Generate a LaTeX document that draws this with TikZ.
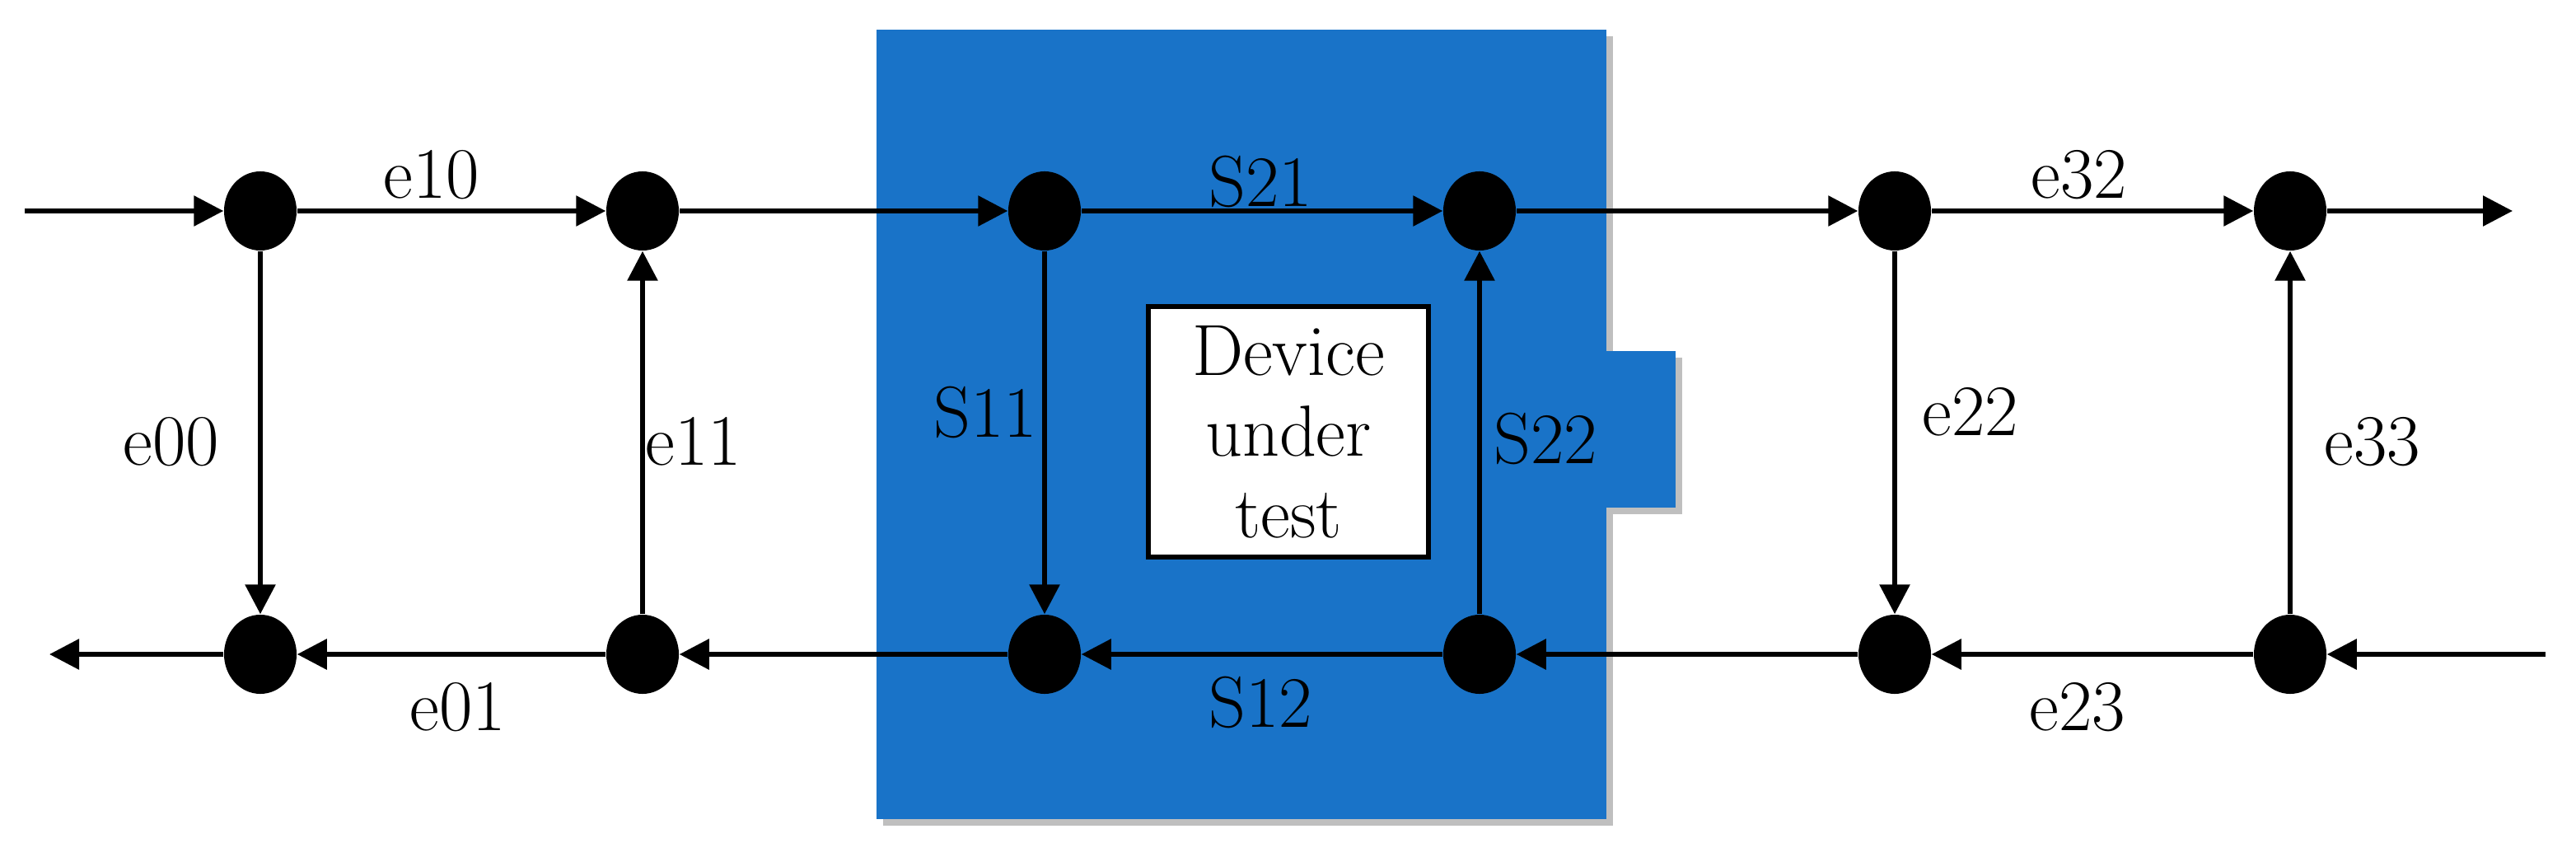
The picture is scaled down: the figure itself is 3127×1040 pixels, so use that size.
\documentclass[tikz,border=0pt]{standalone}
\usetikzlibrary{arrows.meta,shapes.geometric}
\definecolor{dutblue}{RGB}{25,115,200}
\begin{document}
\begin{tikzpicture}[x=0.01cm,y=-0.01cm,
  dot/.style={ellipse,fill=black,inner sep=0pt,minimum width=88\pgflinewidth*0+0.88cm,minimum height=0.96cm},
  ln/.style={line width=1.7pt,-{Triangle[length=0.36cm,width=0.36cm]}},
  lbl/.style={font=\fontsize{25}{30}\selectfont}]
\useasboundingbox (0,0) rectangle (3127,1040);
% shadow and blue box
\fill[gray!50] (1072,44) rectangle (1958,1002);
\fill[gray!50] (1958,434) rectangle (2042,624);
\fill[dutblue] (1064,36) rectangle (1950,994);
\fill[dutblue] (1950,426) rectangle (2034,616);
\node[draw=black,line width=1.7pt,fill=white,minimum width=3.4cm,minimum height=3.04cm,align=center,lbl,font=\fontsize{25}{28}\selectfont] (dut) at (1564,524) {Device\\under\\test};
% nodes
\foreach \n/\x in {1/316,2/780,3/1268,4/1796,5/2300,6/2780}{
  \node[dot] (t\n) at (\x,256) {};
  \node[dot] (b\n) at (\x,794) {};
}
\coordinate (inT) at (30,256);
\coordinate (outT) at (3050,256);
\coordinate (outB) at (60,794);
\coordinate (inB) at (3090,794);
% top row
\draw[ln] (inT) -- (t1);
\foreach \a/\b in {1/2,2/3,3/4,4/5,5/6}{\draw[ln] (t\a) -- (t\b);}
\draw[ln] (t6) -- (outT);
% bottom row
\draw[ln] (inB) -- (b6);
\foreach \a/\b in {6/5,5/4,4/3,3/2,2/1}{\draw[ln] (b\a) -- (b\b);}
\draw[ln] (b1) -- (outB);
% verticals
\draw[ln] (t1) -- (b1);
\draw[ln] (b2) -- (t2);
\draw[ln] (t3) -- (b3);
\draw[ln] (b4) -- (t4);
\draw[ln] (t5) -- (b5);
\draw[ln] (b6) -- (t6);
% labels
\node[lbl] (l1) at (524,212) {e10};
\node[lbl] (l2) at (208,536) {e00};
\node[lbl] (l3) at (842,536) {e11};
\node[lbl] (l4) at (556,858) {e01};
\node[lbl] (l5) at (1196,500) {S11};
\node[lbl] (l6) at (1530,220) {S21};
\node[lbl] (l7) at (1876,532) {S22};
\node[lbl] (l8) at (1530,852) {S12};
\node[lbl] (l9) at (2524,212) {e32};
\node[lbl] (l10) at (2392,500) {e22};
\node[lbl] (l11) at (2880,536) {e33};
\node[lbl] (l12) at (2522,858) {e23};
\end{tikzpicture}
\end{document}
